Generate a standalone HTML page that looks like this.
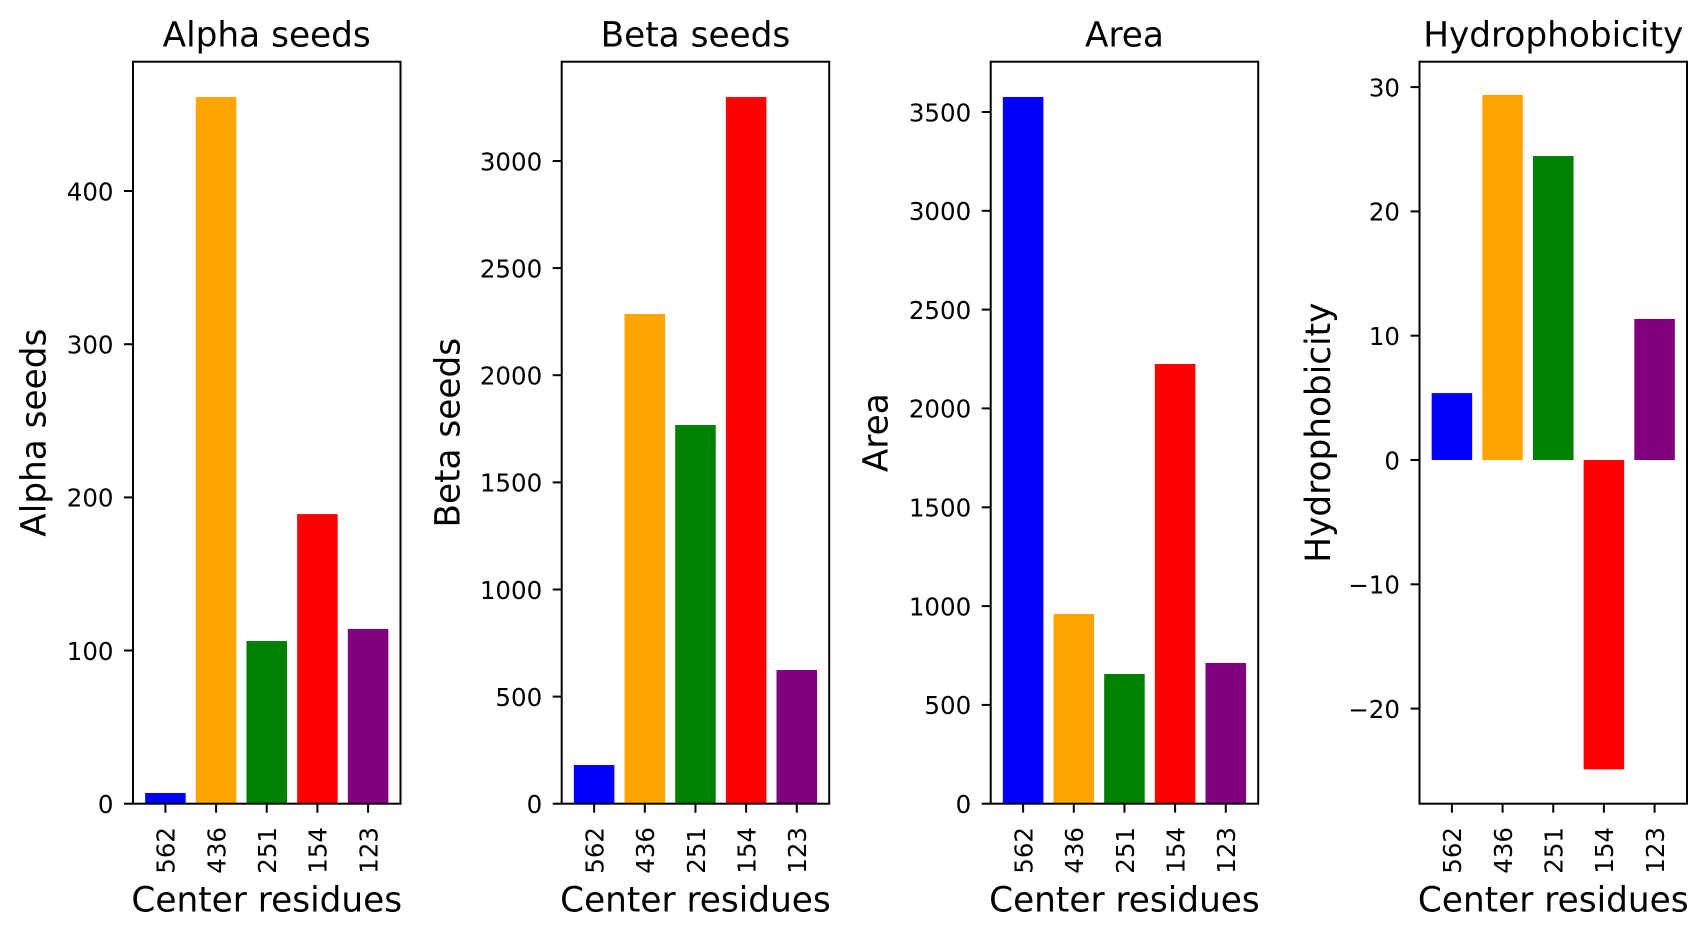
<!DOCTYPE html>
<html>
<head>
<meta charset="utf-8">
<style>
html,body{margin:0;padding:0;background:#fff;}
svg{display:block;}
text{font-family:"DejaVu Sans","Liberation Sans",sans-serif;fill:#000;}
.tk{font-size:24.5px;}
.lb{font-size:34.3px;}
</style>
</head>
<body>
<svg width="1706" height="937" viewBox="0 0 1706 937" xmlns="http://www.w3.org/2000/svg">
<rect width="1706" height="937" fill="#fff"/>

<!-- Panel 1: Alpha seeds -->
<g transform="translate(133,0)">
  <rect x="12.15" y="793.0" width="40.53" height="10.7" fill="#0000ff"/>
  <rect x="62.82" y="97.0" width="40.53" height="706.7" fill="#ffa500"/>
  <rect x="113.48" y="641.0" width="40.53" height="162.7" fill="#008000"/>
  <rect x="164.14" y="514.1" width="40.53" height="289.6" fill="#ff0000"/>
  <rect x="214.81" y="629.0" width="40.53" height="174.7" fill="#800080"/>
  <rect x="0" y="61.7" width="267.5" height="742" fill="none" stroke="#000" stroke-width="2"/>
  <g stroke="#000" stroke-width="2">
    <line x1="-9" y1="803.7" x2="0" y2="803.7"/>
    <line x1="-9" y1="650.5" x2="0" y2="650.5"/>
    <line x1="-9" y1="497.4" x2="0" y2="497.4"/>
    <line x1="-9" y1="344.2" x2="0" y2="344.2"/>
    <line x1="-9" y1="191.0" x2="0" y2="191.0"/>
    <line x1="32.42" y1="803.7" x2="32.42" y2="812.7"/>
    <line x1="83.09" y1="803.7" x2="83.09" y2="812.7"/>
    <line x1="133.75" y1="803.7" x2="133.75" y2="812.7"/>
    <line x1="184.41" y1="803.7" x2="184.41" y2="812.7"/>
    <line x1="235.08" y1="803.7" x2="235.08" y2="812.7"/>
  </g>
  <g class="tk" text-anchor="end">
    <text x="-19.5" y="813.0">0</text>
    <text x="-19.5" y="659.8">100</text>
    <text x="-19.5" y="506.7">200</text>
    <text x="-19.5" y="353.5">300</text>
    <text x="-19.5" y="200.3">400</text>
  </g>
  <g class="tk" text-anchor="end">
    <text transform="translate(41.7,827) rotate(-90)">562</text>
    <text transform="translate(92.4,827) rotate(-90)">436</text>
    <text transform="translate(143.05,827) rotate(-90)">251</text>
    <text transform="translate(193.7,827) rotate(-90)">154</text>
    <text transform="translate(244.4,827) rotate(-90)">123</text>
  </g>
  <text class="lb" x="133.75" y="46.7" text-anchor="middle">Alpha seeds</text>
  <text class="lb" x="133.75" y="911.7" text-anchor="middle">Center residues</text>
  <text class="lb" text-anchor="middle" transform="translate(-87.5,432.7) rotate(-90)">Alpha seeds</text>
</g>

<!-- Panel 2: Beta seeds -->
<g transform="translate(561.7,0)">
  <rect x="12.15" y="765.0" width="40.53" height="38.7" fill="#0000ff"/>
  <rect x="62.82" y="314.0" width="40.53" height="489.7" fill="#ffa500"/>
  <rect x="113.48" y="425.0" width="40.53" height="378.7" fill="#008000"/>
  <rect x="164.14" y="97.0" width="40.53" height="706.7" fill="#ff0000"/>
  <rect x="214.81" y="670.0" width="40.53" height="133.7" fill="#800080"/>
  <rect x="0" y="61.7" width="267.5" height="742" fill="none" stroke="#000" stroke-width="2"/>
  <g stroke="#000" stroke-width="2">
    <line x1="-9" y1="803.7" x2="0" y2="803.7"/>
    <line x1="-9" y1="696.6" x2="0" y2="696.6"/>
    <line x1="-9" y1="589.5" x2="0" y2="589.5"/>
    <line x1="-9" y1="482.4" x2="0" y2="482.4"/>
    <line x1="-9" y1="375.2" x2="0" y2="375.2"/>
    <line x1="-9" y1="268.1" x2="0" y2="268.1"/>
    <line x1="-9" y1="161.0" x2="0" y2="161.0"/>
    <line x1="32.42" y1="803.7" x2="32.42" y2="812.7"/>
    <line x1="83.09" y1="803.7" x2="83.09" y2="812.7"/>
    <line x1="133.75" y1="803.7" x2="133.75" y2="812.7"/>
    <line x1="184.41" y1="803.7" x2="184.41" y2="812.7"/>
    <line x1="235.08" y1="803.7" x2="235.08" y2="812.7"/>
  </g>
  <g class="tk" text-anchor="end">
    <text x="-19.5" y="813.0">0</text>
    <text x="-19.5" y="705.9">500</text>
    <text x="-19.5" y="598.8">1000</text>
    <text x="-19.5" y="491.7">1500</text>
    <text x="-19.5" y="384.5">2000</text>
    <text x="-19.5" y="277.4">2500</text>
    <text x="-19.5" y="170.3">3000</text>
  </g>
  <g class="tk" text-anchor="end">
    <text transform="translate(41.7,827) rotate(-90)">562</text>
    <text transform="translate(92.4,827) rotate(-90)">436</text>
    <text transform="translate(143.05,827) rotate(-90)">251</text>
    <text transform="translate(193.7,827) rotate(-90)">154</text>
    <text transform="translate(244.4,827) rotate(-90)">123</text>
  </g>
  <text class="lb" x="133.75" y="46.7" text-anchor="middle">Beta seeds</text>
  <text class="lb" x="133.75" y="911.7" text-anchor="middle">Center residues</text>
  <text class="lb" text-anchor="middle" transform="translate(-102.4,432.7) rotate(-90)">Beta seeds</text>
</g>

<!-- Panel 3: Area -->
<g transform="translate(990.7,0)">
  <rect x="12.15" y="97.0" width="40.53" height="706.7" fill="#0000ff"/>
  <rect x="62.82" y="614.0" width="40.53" height="189.7" fill="#ffa500"/>
  <rect x="113.48" y="674.0" width="40.53" height="129.7" fill="#008000"/>
  <rect x="164.14" y="364.0" width="40.53" height="439.7" fill="#ff0000"/>
  <rect x="214.81" y="663.0" width="40.53" height="140.7" fill="#800080"/>
  <rect x="0" y="61.7" width="267.5" height="742" fill="none" stroke="#000" stroke-width="2"/>
  <g stroke="#000" stroke-width="2">
    <line x1="-9" y1="803.7" x2="0" y2="803.7"/>
    <line x1="-9" y1="704.9" x2="0" y2="704.9"/>
    <line x1="-9" y1="606.1" x2="0" y2="606.1"/>
    <line x1="-9" y1="507.3" x2="0" y2="507.3"/>
    <line x1="-9" y1="408.4" x2="0" y2="408.4"/>
    <line x1="-9" y1="309.6" x2="0" y2="309.6"/>
    <line x1="-9" y1="210.8" x2="0" y2="210.8"/>
    <line x1="-9" y1="112.0" x2="0" y2="112.0"/>
    <line x1="32.42" y1="803.7" x2="32.42" y2="812.7"/>
    <line x1="83.09" y1="803.7" x2="83.09" y2="812.7"/>
    <line x1="133.75" y1="803.7" x2="133.75" y2="812.7"/>
    <line x1="184.41" y1="803.7" x2="184.41" y2="812.7"/>
    <line x1="235.08" y1="803.7" x2="235.08" y2="812.7"/>
  </g>
  <g class="tk" text-anchor="end">
    <text x="-19.5" y="813.0">0</text>
    <text x="-19.5" y="714.2">500</text>
    <text x="-19.5" y="615.4">1000</text>
    <text x="-19.5" y="516.6">1500</text>
    <text x="-19.5" y="417.7">2000</text>
    <text x="-19.5" y="318.9">2500</text>
    <text x="-19.5" y="220.1">3000</text>
    <text x="-19.5" y="121.3">3500</text>
  </g>
  <g class="tk" text-anchor="end">
    <text transform="translate(41.7,827) rotate(-90)">562</text>
    <text transform="translate(92.4,827) rotate(-90)">436</text>
    <text transform="translate(143.05,827) rotate(-90)">251</text>
    <text transform="translate(193.7,827) rotate(-90)">154</text>
    <text transform="translate(244.4,827) rotate(-90)">123</text>
  </g>
  <text class="lb" x="133.75" y="46.7" text-anchor="middle">Area</text>
  <text class="lb" x="133.75" y="911.7" text-anchor="middle">Center residues</text>
  <text class="lb" text-anchor="middle" transform="translate(-103.4,432.7) rotate(-90)">Area</text>
</g>

<!-- Panel 4: Hydrophobicity -->
<g transform="translate(1419.5,0)">
  <rect x="12.15" y="393.1" width="40.53" height="66.9" fill="#0000ff"/>
  <rect x="62.82" y="95.0" width="40.53" height="365.0" fill="#ffa500"/>
  <rect x="113.48" y="156.0" width="40.53" height="304.0" fill="#008000"/>
  <rect x="164.14" y="460.0" width="40.53" height="309.3" fill="#ff0000"/>
  <rect x="214.81" y="319.0" width="40.53" height="141.0" fill="#800080"/>
  <rect x="0" y="61.7" width="267.5" height="742" fill="none" stroke="#000" stroke-width="2"/>
  <g stroke="#000" stroke-width="2">
    <line x1="-9" y1="87.1" x2="0" y2="87.1"/>
    <line x1="-9" y1="211.4" x2="0" y2="211.4"/>
    <line x1="-9" y1="335.7" x2="0" y2="335.7"/>
    <line x1="-9" y1="460.0" x2="0" y2="460.0"/>
    <line x1="-9" y1="584.3" x2="0" y2="584.3"/>
    <line x1="-9" y1="708.6" x2="0" y2="708.6"/>
    <line x1="32.42" y1="803.7" x2="32.42" y2="812.7"/>
    <line x1="83.09" y1="803.7" x2="83.09" y2="812.7"/>
    <line x1="133.75" y1="803.7" x2="133.75" y2="812.7"/>
    <line x1="184.41" y1="803.7" x2="184.41" y2="812.7"/>
    <line x1="235.08" y1="803.7" x2="235.08" y2="812.7"/>
  </g>
  <g class="tk" text-anchor="end">
    <text x="-19.5" y="96.4">30</text>
    <text x="-19.5" y="220.7">20</text>
    <text x="-19.5" y="345.0">10</text>
    <text x="-19.5" y="469.3">0</text>
    <text x="-19.5" y="593.6">−10</text>
    <text x="-19.5" y="717.9">−20</text>
  </g>
  <g class="tk" text-anchor="end">
    <text transform="translate(41.7,827) rotate(-90)">562</text>
    <text transform="translate(92.4,827) rotate(-90)">436</text>
    <text transform="translate(143.05,827) rotate(-90)">251</text>
    <text transform="translate(193.7,827) rotate(-90)">154</text>
    <text transform="translate(244.4,827) rotate(-90)">123</text>
  </g>
  <text class="lb" x="133.75" y="46.7" text-anchor="middle">Hydrophobicity</text>
  <text class="lb" x="133.75" y="911.7" text-anchor="middle">Center residues</text>
  <text class="lb" text-anchor="middle" transform="translate(-89.5,432.7) rotate(-90)">Hydrophobicity</text>
</g>
</svg>
</body>
</html>
